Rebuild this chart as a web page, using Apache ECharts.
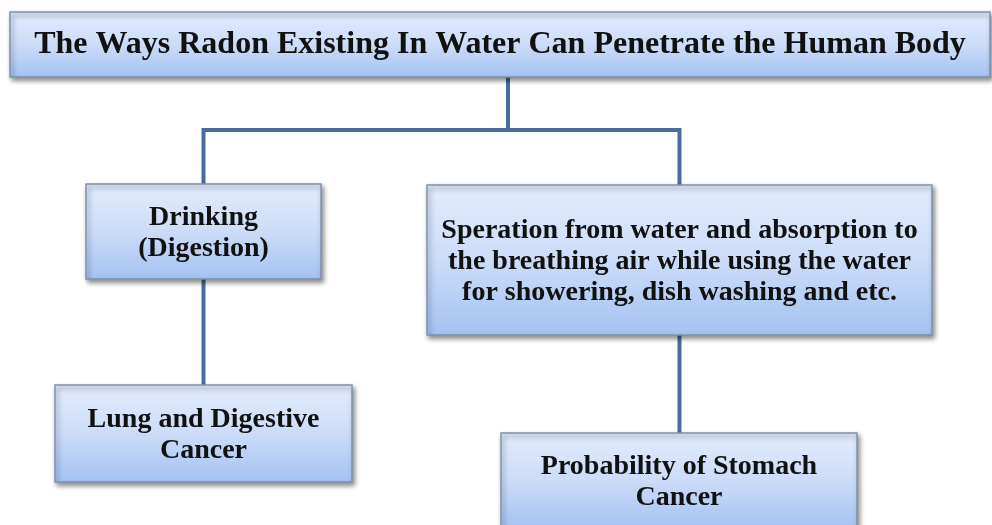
<!DOCTYPE html>
<html>
<head>
<meta charset="utf-8">
<script src="https://cdn.jsdelivr.net/npm/echarts@6/dist/echarts.min.js"></script>
<style>
  html, body { margin: 0; padding: 0; background: #fff; }
  #chart { width: 992px; height: 525px; }
</style>
</head>
<body>
<div id="chart"></div>
<script>
// boxes of the diagram
let nodeIds = ['title', 'drink', 'spray', 'lung', 'stomach'];
let nodeLabels = [
    'The Ways Radon Existing In Water Can Penetrate the Human Body',
    'Drinking\n(Digestion)',
    'Speration from water and absorption to\nthe breathing air while using the water\nfor showering, dish washing and etc.',
    'Lung and Digestive\nCancer',
    'Probability of Stomach\nCancer'
];
// parent -> child connections
let links = [
    ['title', 'drink'],
    ['title', 'spray'],
    ['drink', 'lung'],
    ['spray', 'stomach']
];

// layout in page pixels: [left, top, right, bottom]
let layout = {
    title: [10, 12, 990, 77],
    drink: [86, 184, 321, 279],
    spray: [427, 185, 932, 335],
    lung: [55, 385, 352, 482],
    stomach: [501, 433, 857, 528]
};
let trunkX = 508;   // where the stem leaves the title box
let busY = 130;     // horizontal branch line
let fontSizes = { title: 32, drink: 28, spray: 28, lung: 28, stomach: 28 };

let boxData = nodeIds.map(function (id, i) {
    let b = layout[id];
    return [b[0], b[1], b[2], b[3], i];
});

let lineData = links.map(function (l) {
    let p = layout[l[0]], c = layout[l[1]];
    let cx = (c[0] + c[2]) / 2;
    if (l[0] === 'title') {
        return { coords: [[trunkX, p[3]], [trunkX, busY], [cx, busY], [cx, c[1]]] };
    }
    let px = (p[0] + p[2]) / 2;
    return { coords: [[px, p[3]], [px, c[1]]] };
});

let chart = echarts.init(document.getElementById('chart'));
chart.setOption({
    animation: false,
    grid: { left: 0, right: 0, top: 0, bottom: 0 },
    xAxis: { type: 'value', min: 0, max: 992, show: false },
    yAxis: { type: 'value', min: 0, max: 525, inverse: true, show: false },
    series: [{
        type: 'lines',
        coordinateSystem: 'cartesian2d',
        polyline: true,
        z: 1,
        lineStyle: { color: '#4a6c9b', width: 4, opacity: 1 },
        data: lineData
    }, {
        type: 'custom',
        z: 2,
        data: boxData,
        renderItem: function (params, api) {
            let p0 = api.coord([api.value(0), api.value(1)]);
            let p1 = api.coord([api.value(2), api.value(3)]);
            let i = api.value(4);
            let id = nodeIds[i];
            let fs = fontSizes[id];
            return {
                type: 'group',
                children: [{
                    type: 'rect',
                    shape: { x: p0[0], y: p0[1], width: p1[0] - p0[0], height: p1[1] - p0[1] },
                    style: {
                        fill: new echarts.graphic.LinearGradient(0, 0, 0, 1, [
                            { offset: 0, color: '#e3ecfc' },
                            { offset: 0.5, color: '#ccdcf8' },
                            { offset: 1, color: '#a4c2f2' }
                        ]),
                        stroke: '#7f92b0',
                        lineWidth: 1.5,
                        shadowBlur: 5,
                        shadowOffsetX: 2,
                        shadowOffsetY: 3,
                        shadowColor: 'rgba(0,0,0,0.45)'
                    }
                }, {
                    type: 'text',
                    style: {
                        text: nodeLabels[i],
                        x: (p0[0] + p1[0]) / 2,
                        y: (p0[1] + p1[1]) / 2 + (id === 'title' ? 0 : 2),
                        align: 'center',
                        verticalAlign: 'middle',
                        fontFamily: '"Liberation Serif", "DejaVu Serif", serif',
                        fontWeight: 'bold',
                        fontSize: fs,
                        lineHeight: id === 'title' ? fs : 31,
                        fill: '#111'
                    }
                }]
            };
        }
    }]
});
</script>
</body>
</html>
